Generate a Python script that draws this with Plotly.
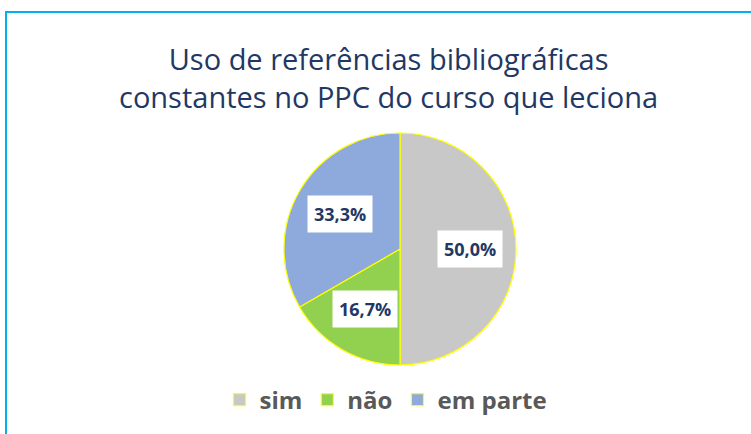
import math
import plotly.graph_objects as go

# Survey answers
categories = ["sim", "não", "em parte"]
counts = [3, 1, 2]
slice_colors = ["#C8C8C8", "#92D050", "#8EA9DB"]

title_lines = ["Uso de referências bibliográficas", "constantes no PPC do curso que leciona"]

W, H = 751, 434
# pie geometry in pixels (centre and radius)
cx, cy, r = 400, 249, 116

fig = go.Figure()
fig.add_trace(go.Pie(
    labels=categories,
    values=counts,
    sort=False,
    direction="clockwise",
    rotation=0,
    marker=dict(colors=slice_colors, line=dict(color="#FFFF00", width=1.2)),
    textinfo="none",
    hoverinfo="skip",
    domain=dict(x=[(cx - r) / W, (cx + r) / W], y=[1 - (cy + r) / H, 1 - (cy - r) / H]),
))

# percentage labels in white boxes, placed at the middle angle of each slice
total = sum(counts)
annotations = []
cum = 0
for v in counts:
    mid = (cum + v / 2) / total * 2 * math.pi  # clockwise from 12 o'clock
    cum += v
    px = cx + 0.6 * r * math.sin(mid)
    py = cy - 0.6 * r * math.cos(mid)
    label = f"{v / total * 100:.1f}%".replace(".", ",")
    annotations.append(dict(
        x=px / W, y=1 - py / H, xref="paper", yref="paper",
        xanchor="center", yanchor="middle",
        text=f"<b>{label}</b>", showarrow=False,
        font=dict(family="Open Sans", size=18, color="#1F3864"),
        bgcolor="#FFFFFF", borderpad=6,
    ))

annotations.append(dict(
    x=388 / W, y=1 - 77 / H, xref="paper", yref="paper",
    xanchor="center", yanchor="middle",
    text="<br>".join(title_lines), showarrow=False,
    font=dict(family="Open Sans", size=29, color="#1F3864"),
    align="center",
))

fig.update_layout(
    width=W, height=H,
    margin=dict(l=0, r=0, t=0, b=0),
    paper_bgcolor="#FFFFFF",
    showlegend=True,
    legend=dict(
        orientation="h", x=386 / W, xanchor="center", y=1 - 400 / H, yanchor="middle",
        font=dict(family="Open Sans", size=24, color="#595959", weight="bold"),
        itemwidth=30, tracegroupgap=0,
    ),
    annotations=annotations,
    shapes=[dict(
        type="rect", xref="paper", yref="paper",
        x0=6 / W, x1=1.05, y0=-0.05, y1=1 - 12 / H,
        line=dict(color="#00B0F0", width=2), fillcolor="rgba(0,0,0,0)",
    )],
)

fig.write_html("out.html")
